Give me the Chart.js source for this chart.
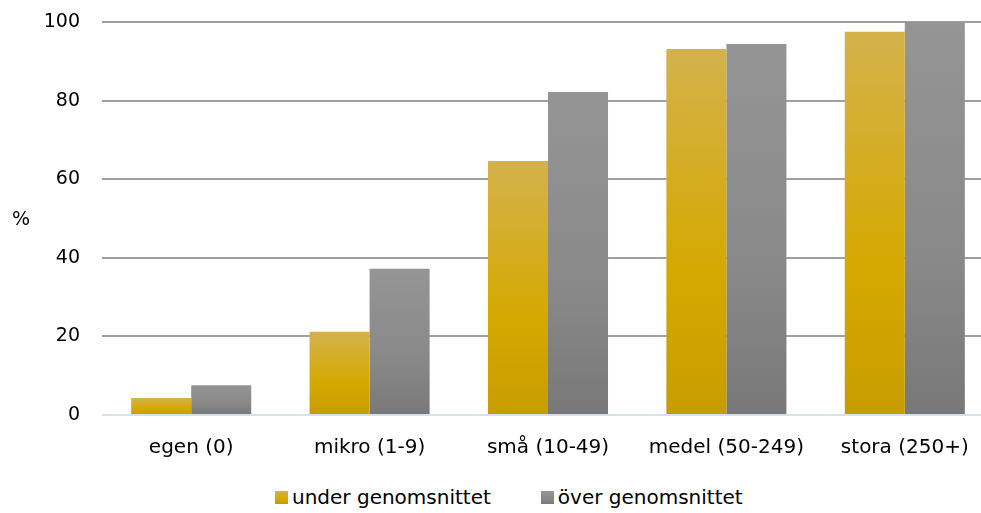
<!DOCTYPE html>
<html lang="sv">
<head>
<meta charset="utf-8">
<title>Företagsstorlek</title>
<script src="https://cdn.jsdelivr.net/npm/chart.js@4/dist/chart.umd.min.js"></script>
<style>
  html, body { margin: 0; padding: 0; background: #fff; overflow: hidden; }
  #wrap { position: relative; width: 981px; height: 513px; overflow: hidden; }
  #box { position: absolute; left: 0; top: 0; width: 1000px; height: 470px; }
  #legend { position: absolute; left: 275px; top: 485px; display: flex; align-items: center;
            font-family: "DejaVu Sans", sans-serif; font-size: 20px; color: #000; }
  #legend .item { display: flex; align-items: center; margin-right: 50px; white-space: nowrap; }
  #legend .sw { width: 13px; height: 13px; margin-right: 4px; }
</style>
</head>
<body>
<div id="wrap">
  <div id="box"><canvas id="c"></canvas></div>
  <div id="legend"></div>
</div>
<script>
// Andel (%) per företagsstorlek
const categories = ['egen (0)', 'mikro (1-9)', 'små (10-49)', 'medel (50-249)', 'stora (250+)'];
const underValues = [4.3, 21.2, 64.6, 93.1, 97.5];
const overValues = [7.6, 37.2, 82.2, 94.4, 100];
const seriesNames = ['under genomsnittet', 'över genomsnittet'];
const yTicks = [0, 20, 40, 60, 80, 100];

const FONT = '"DejaVu Sans", sans-serif';
const goldStops = [[0, '#d4b24c'], [0.62, '#d4a900'], [1, '#c79c00']];
const greyStops = [[0, '#959595'], [0.6, '#898989'], [1, '#787878']];

// vertical gradient spanning each bar from its top to the zero line
function barFill(stops) {
  return (c) => {
    const chart = c.chart;
    if (!chart.chartArea || c.type !== 'data') return stops[1][1];
    const y = chart.scales.y;
    const top = y.getPixelForValue(c.raw);
    const base = y.getPixelForValue(0);
    if (!isFinite(top) || !isFinite(base) || top === base) return stops[1][1];
    const g = chart.ctx.createLinearGradient(0, top, 0, base);
    stops.forEach(([o, col]) => g.addColorStop(o, col));
    return g;
  };
}

// horizontal "%" label left of the value axis
const yUnitLabel = {
  id: 'yUnitLabel',
  afterDraw(chart) {
    const { ctx, chartArea } = chart;
    ctx.save();
    ctx.font = '19px ' + FONT;
    ctx.fillStyle = '#000';
    ctx.textAlign = 'center';
    ctx.textBaseline = 'middle';
    ctx.fillText('%', 21, (chartArea.top + chartArea.bottom) / 2 + 2);
    ctx.restore();
  }
};

const chart = new Chart(document.getElementById('c'), {
  type: 'bar',
  data: {
    labels: categories,
    datasets: [
      { label: seriesNames[0], data: underValues, backgroundColor: barFill(goldStops), swatch: goldStops },
      { label: seriesNames[1], data: overValues, backgroundColor: barFill(greyStops), swatch: greyStops }
    ]
  },
  options: {
    responsive: true,
    maintainAspectRatio: false,
    animation: false,
    layout: { padding: { top: 22, right: 6, left: 0, bottom: 0 } },
    datasets: { bar: { categoryPercentage: 0.673, barPercentage: 1, borderWidth: 0 } },
    plugins: { legend: { display: false }, tooltip: { enabled: false } },
    scales: {
      x: {
        grid: { display: false, drawTicks: false },
        border: { display: false },
        ticks: { color: '#000', font: { family: FONT, size: 20 }, padding: 21, maxRotation: 0 },
        afterFit(s) { s.height = 55; s.paddingLeft = 0; s.paddingRight = 0; }
      },
      y: {
        min: 0, max: 100,
        afterBuildTicks(s) { s.ticks = yTicks.map(v => ({ value: v })); },
        grid: {
          drawTicks: false,
          lineWidth: 2,
          color: (c) => (c.tick && c.tick.value === 0 ? '#d6e1f0' : '#a0a0a0')
        },
        border: { display: false },
        ticks: { color: '#000', font: { family: FONT, size: 19 }, padding: 22 },
        afterFit(s) { s.width = 102; s.paddingTop = 0; s.paddingBottom = 0; }
      }
    }
  },
  plugins: [yUnitLabel]
});

// legend built from the chart's datasets
const legendEl = document.getElementById('legend');
chart.data.datasets.forEach((ds) => {
  const item = document.createElement('div');
  item.className = 'item';
  const sw = document.createElement('span');
  sw.className = 'sw';
  sw.style.background = 'linear-gradient(to bottom, ' +
    ds.swatch.map(([o, col]) => col + ' ' + (o * 100) + '%').join(', ') + ')';
  const tx = document.createElement('span');
  tx.textContent = ds.label;
  item.appendChild(sw);
  item.appendChild(tx);
  legendEl.appendChild(item);
});
</script>
</body>
</html>
